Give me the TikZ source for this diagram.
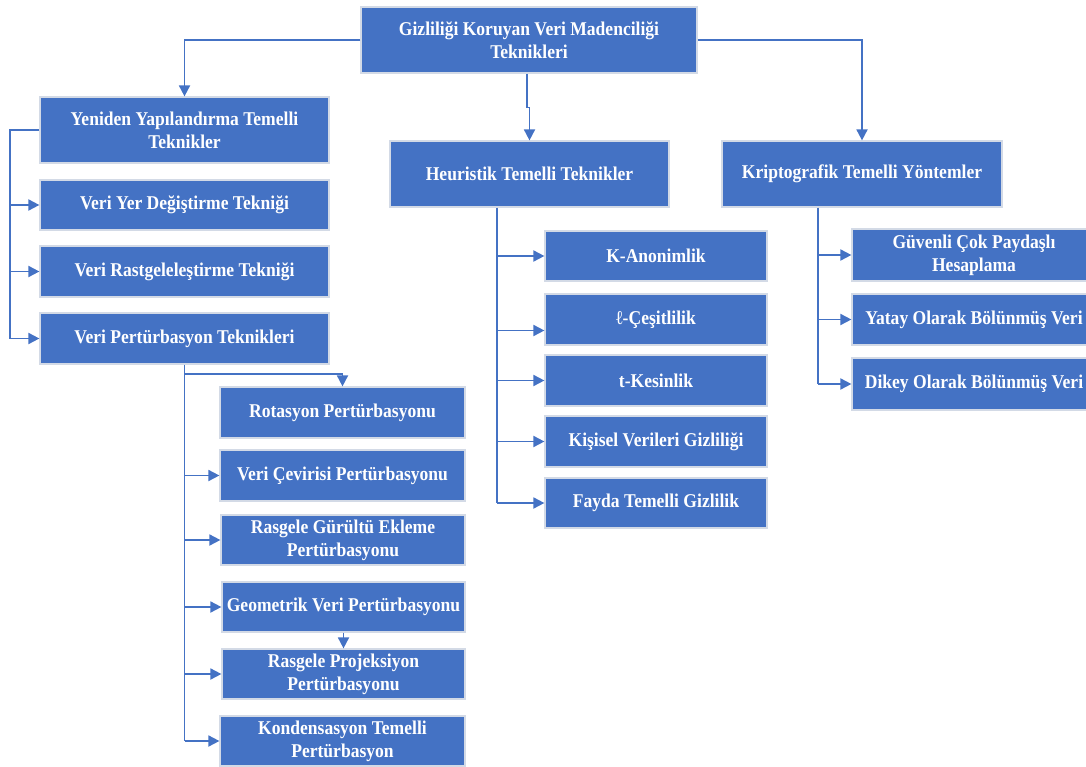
\documentclass[tikz,border=0pt]{standalone}
\usepackage{fontspec}
\setmainfont{Liberation Serif}[FakeStretch=0.9]
\usetikzlibrary{arrows.meta}
\definecolor{boxblue}{HTML}{4472C4}
\definecolor{boxedge}{HTML}{D3DAE6}
\begin{document}
\begin{tikzpicture}[x=1pt,y=-1pt,
  box/.style={fill=boxblue,draw=boxedge,line width=1.2pt,text=white,
    font=\bfseries\fontsize{19.5}{23}\selectfont,align=center,inner sep=0pt},
  link/.style={draw=boxblue,line width=1.8pt},
  arr/.style={link,-{Triangle[length=11pt,width=11pt]}}]
\useasboundingbox (0,0) rectangle (1086,767);

% top
\node[box,minimum width=336,minimum height=66] (root) at (529,40) {Gizliliği Koruyan Veri Madenciliği\\Teknikleri};
% left column
\node[box,minimum width=289,minimum height=66] (yen) at (184.5,130) {Yeniden Yapılandırma Temelli\\Teknikler};
\node[box,minimum width=289,minimum height=50] (veriyer) at (184.5,205) {Veri Yer Değiştirme Tekniği};
\node[box,minimum width=289,minimum height=51] (rast) at (184.5,271.5) {Veri Rastgeleleştirme Tekniği};
\node[box,minimum width=289,minimum height=51] (pert) at (184.5,338.5) {Veri Pertürbasyon Teknikleri};
% perturbation sub-column
\node[box,minimum width=245,minimum height=51] (rot) at (342.5,412.5) {Rotasyon Pertürbasyonu};
\node[box,minimum width=245,minimum height=51] (cev) at (342.5,475.5) {Veri Çevirisi Pertürbasyonu};
\node[box,minimum width=244,minimum height=50] (gur) at (343,540) {Rasgele Gürültü Ekleme\\Pertürbasyonu};
\node[box,minimum width=243,minimum height=50] (geo) at (343.5,607) {Geometrik Veri Pertürbasyonu};
\node[box,minimum width=243,minimum height=50] (proj) at (343.5,674) {Rasgele Projeksiyon\\Pertürbasyonu};
\node[box,minimum width=245,minimum height=50] (kond) at (342.5,741) {Kondensasyon Temelli\\Pertürbasyon};
% middle column
\node[box,minimum width=279,minimum height=66] (heur) at (529.5,174) {Heuristik Temelli Teknikler};
\node[box,minimum width=222,minimum height=50] (kanon) at (656,256) {K-Anonimlik};
\node[box,minimum width=222,minimum height=51] (cesit) at (656,319.5) {ℓ-Çeşitlilik};
\node[box,minimum width=222,minimum height=51] (tkes) at (656,380.5) {t-Kesinlik};
\node[box,minimum width=222,minimum height=51] (kisi) at (656,441.5) {Kişisel Verileri Gizliliği};
\node[box,minimum width=222,minimum height=50] (fayda) at (656,503) {Fayda Temelli Gizlilik};
% right column
\node[box,minimum width=280,minimum height=66] (kripto) at (862,174) {Kriptografik Temelli Yöntemler};
\node[box,minimum width=244,minimum height=52] (guv) at (974,255) {Güvenli Çok Paydaşlı\\Hesaplama};
\node[box,minimum width=244,minimum height=51] (yatay) at (974,319.5) {Yatay Olarak Bölünmüş Veri};
\node[box,minimum width=244,minimum height=52] (dikey) at (974,384) {Dikey Olarak Bölünmüş Veri};

% root connectors
\draw[arr] (root.west) -| (yen.north);
\draw[arr] (root.east) -| (kripto.north);
\draw[arr] ([xshift=-2pt]root.south) -- ++(0,34) -| (heur.north);

% left spine
\coordinate (ls) at (10,130);
\draw[link] (yen.west) -- (ls) -- (ls |- pert.west);
\foreach \n in {veriyer,rast,pert} \draw[arr] (ls |- \n.west) -- (\n.west);

% perturbation spine
\draw[link] (pert.south) -- (pert.south |- kond.west);
\coordinate (pb) at ([yshift=-9pt]pert.south);
\draw[arr] (pb) -| (rot.north);
\foreach \n in {cev,gur,geo,proj,kond} \draw[arr] (pert.south |- \n.west) -- (\n.west);
\draw[arr] (geo.south) -- (proj.north);

% heuristic spine
\coordinate (hs) at ([xshift=-32.5pt]heur.south);
\draw[link] (hs) -- (hs |- fayda.west);
\foreach \n in {kanon,tkes,kisi,fayda} \draw[arr] (hs |- \n.west) -- (\n.west);
\coordinate (cw) at ([yshift=-11pt]cesit.west);
\draw[arr] (hs |- cw) -- (cw);

% crypto spine
\coordinate (ks) at ([xshift=-44pt]kripto.south);
\draw[link] (ks) -- (ks |- dikey.west);
\foreach \n in {guv,yatay,dikey} \draw[arr] (ks |- \n.west) -- (\n.west);
\end{tikzpicture}
\end{document}
